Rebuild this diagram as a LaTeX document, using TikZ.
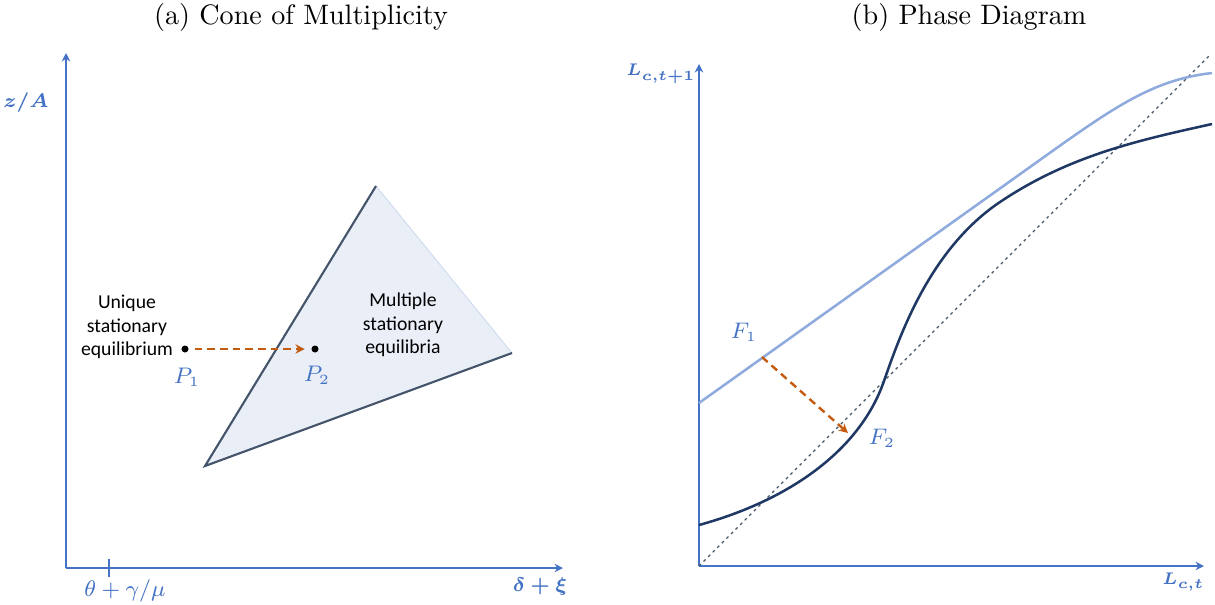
\documentclass[tikz,border=0pt]{standalone}
\usepackage{amsmath,bm}
\usepackage{fontspec}
\newfontfamily\calibri{Carlito}
\usetikzlibrary{arrows.meta}

\definecolor{axisblue}{HTML}{4472C4}
\definecolor{lightcurve}{HTML}{8FAADC}
\definecolor{darkcurve}{HTML}{203864}
\definecolor{conefill}{HTML}{E9EEF7}
\definecolor{coneedge}{HTML}{44546A}
\definecolor{shiftorange}{HTML}{C55A11}

\begin{document}
\begin{tikzpicture}[x=0.0125cm, y=-0.0125cm, >=Stealth,
  axis/.style={draw=axisblue, line width=0.75pt, -{Stealth[length=3pt,width=3pt]}},
  lab/.style={text=axisblue, font=\fontsize{7.6}{9}\selectfont},
  axlab/.style={text=axisblue, font=\fontsize{7}{8.5}\selectfont},
  txt/.style={align=center, font=\calibri\fontsize{7}{8.4}\selectfont},
  dot/.style={circle, fill=black, inner sep=0pt, minimum size=2.5pt},
  shiftarrow/.style={draw=shiftorange, line width=0.85pt, dash pattern=on 2.7pt off 1.8pt,
    -{Stealth[length=3.3pt,width=3.3pt]}},
  curve/.style={line width=0.9pt}]
  \useasboundingbox (0,0) rectangle (1215,604);

  % (a) cone
  \node (titleA) at (301,17) {(a) Cone of Multiplicity};
  \coordinate (oa) at (66,568);
  \coordinate (ya) at (66,53);
  \coordinate (xa) at (563,568);
  \draw[axis] (oa) -- (ya);
  \draw[axis] (oa) -- (xa);
  \draw[axisblue, line width=0.5pt] (109,559) -- (109,577);
  \node[lab] (tick) at (125,591) {$\theta+\gamma/\mu$};
  \node[axlab] (xlabA) at (540,587) {$\bm{\delta+\xi}$};
  \node[axlab] (ylabA) at (26,103) {$\bm{z/A}$};

  \coordinate (cbot) at (205,466);
  \coordinate (ctop) at (376,186);
  \coordinate (cright) at (512,353);
  \fill[conefill] (cbot) -- (ctop) -- (cright) -- cycle;
  \draw[lightcurve!45, line width=0.3pt] (ctop) -- (cright);
  \draw[coneedge, line width=0.75pt] (ctop) -- (cbot) -- (cright);

  \node[txt] (unique) at (127,327) {Unique\\stationary\\equilibrium};
  \node[txt] (multi) at (403,325) {Multiple\\stationary\\equilibria};
  \node[dot] (p1) at (185,349) {};
  \node[dot] (p2) at (315,349) {};
  \node[lab] (p1lab) at (187,377) {$P_1$};
  \node[lab] (p2lab) at (317,375) {$P_2$};
  \draw[shiftarrow, shorten <=2pt, shorten >=2.2pt] (p1) -- (p2);

  % (b) phase diagram
  \node (titleB) at (969,17) {(b) Phase Diagram};
  \coordinate (ob) at (699,566);
  \coordinate (yb) at (699,64);
  \coordinate (xb) at (1204,566);
  \coordinate (diagend) at (1210,55);
  \draw[axis] (ob) -- (yb);
  \draw[axis] (ob) -- (xb);
  \node[axlab, anchor=east, inner sep=0pt, font=\fontsize{6.4}{8}\selectfont] (ylabB) at (696,74) {$\bm{L_{c,t+1}}$};
  \node[axlab, anchor=east, inner sep=0pt, font=\fontsize{6.4}{8}\selectfont] (xlabB) at (1205,582) {$\bm{L_{c,t}}$};

  \draw[coneedge, line width=0.4pt, dash pattern=on 1pt off 1.3pt] (ob) -- (diagend);

  \draw[lightcurve, curve] (699,403) -- (1030,167)
    .. controls (1110,110) and (1150,80) .. (1212,73);
  \draw[darkcurve, curve] (699,525) .. controls (790,500) and (860,450) .. (884,381)
    .. controls (900,335) and (930,249) .. (1000,202)
    .. controls (1070,155) and (1140,140) .. (1212,124);

  \coordinate (f1pt) at (762,357);
  \coordinate (f2pt) at (848,433);
  \node[lab] (f1lab) at (744,332) {$F_1$};
  \node[lab] (f2lab) at (882,438) {$F_2$};
  \draw[shiftarrow] (f1pt) -- (f2pt);
\end{tikzpicture}
\end{document}
